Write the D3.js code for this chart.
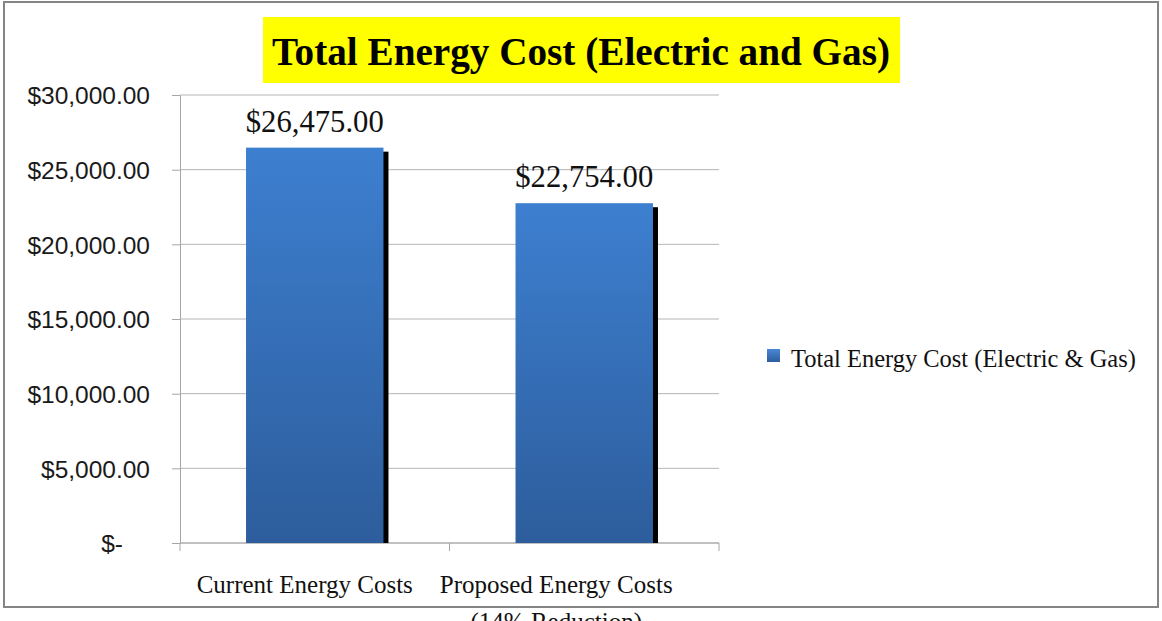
<!DOCTYPE html>
<html><head><meta charset="utf-8">
<script src="https://cdn.jsdelivr.net/npm/d3@7"></script>
<style>html,body{margin:0;padding:0;background:#fff;overflow:hidden}</style>
</head><body>
<svg id="c" width="1162" height="621"></svg>
<script>
const categories = ["Current Energy Costs", "Proposed Energy Costs (14% Reduction)"];
const categoryLines = [["Current Energy Costs"], ["Proposed Energy Costs", "(14% Reduction)"]];
const values = [26475, 22754];
const yTicks = [0, 5000, 10000, 15000, 20000, 25000, 30000];
const seriesName = "Total Energy Cost (Electric & Gas)";
const titleText = "Total Energy Cost (Electric and Gas)";

(function () {
const svg = d3.select("#c");
const serif = "'Liberation Serif', 'Times New Roman', serif";
const sans = "'Liberation Sans', Arial, sans-serif";

function fit(sel, target) {
  const w = sel.node().getComputedTextLength();
  const fs = parseFloat(sel.attr("font-size"));
  sel.attr("font-size", fs * target / w);
}

// frame
svg.append("rect").attr("x", 4).attr("y", 2).attr("width", 1154).attr("height", 605)
  .attr("fill", "#fff").attr("stroke", "#858585").attr("stroke-width", 2);

const pL = 180, pR = 719, pT = 95, pB = 543;
const x = d3.scaleBand().domain(categories).range([pL, pR]).paddingInner(0.49).paddingOuter(0.245);
const xb = d3.scaleBand().domain(categories).range([pL, pR]);
const y = d3.scaleLinear().domain([0, 30000]).range([pB, pT]);

const defs = svg.append("defs");
const g = defs.append("linearGradient").attr("id", "bg").attr("x1", 0).attr("x2", 0).attr("y1", 0).attr("y2", 1);
g.append("stop").attr("offset", "0%").attr("stop-color", "#3d7fd0");
g.append("stop").attr("offset", "100%").attr("stop-color", "#2d5d9c");
const lg = defs.append("linearGradient").attr("id", "lg").attr("x1", 0).attr("x2", 0).attr("y1", 0).attr("y2", 1);
lg.append("stop").attr("offset", "0%").attr("stop-color", "#4a88d6");
lg.append("stop").attr("offset", "100%").attr("stop-color", "#2d5d9c");

// gridlines
svg.append("g").selectAll("line").data(yTicks).join("line")
  .attr("x1", pL).attr("x2", pR).attr("y1", d => y(d)).attr("y2", d => y(d))
  .attr("stroke", "#b5b5b5").attr("stroke-width", 1);

// y axis
const yAxis = svg.append("g").attr("transform", `translate(${pL},0)`)
  .call(d3.axisLeft(y).tickValues(yTicks).tickSize(8).tickPadding(22)
    .tickFormat(d => d === 0 ? "$-" : "$" + d3.format(",.2f")(d)));
yAxis.select(".domain").attr("stroke", "#a6a6a6");
yAxis.selectAll(".tick line").attr("stroke", "#a6a6a6");
yAxis.selectAll(".tick text").attr("font-family", sans).attr("font-size", 24.5).attr("fill", "#1a1a1a")
  .attr("dy", "0.36em");
yAxis.selectAll(".tick text").filter(d => d === 0).attr("dx", -27);

// x axis
const xAxis = svg.append("g").attr("transform", `translate(0,${pB})`);
xAxis.append("line").attr("x1", pL).attr("x2", pR).attr("stroke", "#a6a6a6");
xAxis.selectAll(".tk").data([...categories.map(c => xb(c)), pR]).join("line")
  .attr("x1", d => d).attr("x2", d => d).attr("y1", 0).attr("y2", 8).attr("stroke", "#a6a6a6");

// shadows
svg.append("g").selectAll("rect").data(values).join("rect")
  .attr("x", (d, i) => x(categories[i]) + 5).attr("y", d => y(d) + 4)
  .attr("width", x.bandwidth()).attr("height", d => pB - y(d) - 4).attr("fill", "#000");
// bars
svg.append("g").selectAll("rect").data(values).join("rect")
  .attr("x", (d, i) => x(categories[i])).attr("y", d => y(d))
  .attr("width", x.bandwidth()).attr("height", d => pB - y(d)).attr("fill", "url(#bg)");

// value labels
svg.append("g").selectAll("text").data(values).join("text")
  .attr("x", (d, i) => x(categories[i]) + x.bandwidth() / 2).attr("y", d => y(d) - 16)
  .attr("text-anchor", "middle").attr("font-family", serif).attr("font-size", 29).attr("fill", "#111")
  .text(d => "$" + d3.format(",.2f")(d))
  .each(function () { fit(d3.select(this), 138); });

// category labels
const offs = [-10, -28];
categoryLines.forEach((lines, i) => {
  const cx = xb(categories[i]) + xb.bandwidth() / 2 + offs[i];
  lines.forEach((ln, j) => {
    svg.append("text").attr("x", cx).attr("y", 593 + j * 37)
      .attr("text-anchor", "middle").attr("font-family", serif).attr("font-size", 25).attr("fill", "#111")
      .text(ln);
  });
});

// title
svg.append("rect").attr("x", 263).attr("y", 17).attr("width", 637).attr("height", 66).attr("fill", "#ffff00");
const t = svg.append("text").attr("x", 581).attr("y", 65).attr("text-anchor", "middle")
  .attr("font-family", serif).attr("font-weight", "bold").attr("font-size", 38).attr("fill", "#000")
  .text(titleText);
fit(t, 618);

// legend
svg.append("rect").attr("x", 767).attr("y", 349).attr("width", 13).attr("height", 13).attr("fill", "url(#lg)");
const lt = svg.append("text").attr("x", 791).attr("y", 367).attr("font-family", serif).attr("font-size", 21)
  .attr("fill", "#111").text(seriesName);
fit(lt, 345);
})();
</script>
</body></html>
